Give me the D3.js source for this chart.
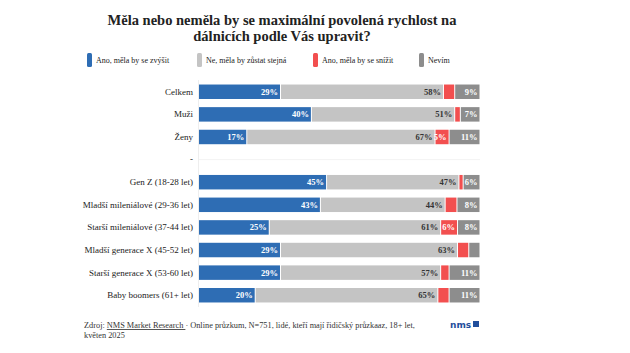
<!DOCTYPE html>
<html>
<head>
<meta charset="utf-8">
<script src="https://cdn.jsdelivr.net/npm/d3@7"></script>
<style>
body { margin: 0; background: #fff; }
text { font-family: "Liberation Serif", serif; }
</style>
</head>
<body>
<script>
var categories = ["Celkem", "Muži", "Ženy", "-", "Gen Z (18-28 let)", "Mladší mileniálové (29-36 let)",
    "Starší mileniálové (37-44 let)", "Mladší generace X (45-52 let)", "Starší generace X (53-60 let)",
    "Baby boomers (61+ let)"];
var seriesNames = ["Ano, měla by se zvýšit", "Ne, měla by zůstat stejná", "Ano, měla by se snížit", "Nevím"];
var zvysit = [29, 40, 17, null, 45.4, 43.2, 25, 29, 29, 20];
var stejna = [58, 51, 67, null, 47.1, 44.4, 61, 63, 57, 65];
var snizit = [4, 2, 5, null, 1.5, 4.2, 6, 4, 3, 4];
var nevim = [9, 7, 11, null, 6, 8.2, 8, 4, 11, 11];
var colors = ["#2e6db4", "#c4c4c4", "#f24f4f", "#8d8d8d"];
var labelColors = ["#fff", "#333", "#fff", "#fff"];

var svgWidth = 630;
var svgHeight = 353;
var margin = { top: 80, right: 150, bottom: 46, left: 199 };

var svg = d3.select("body")
        .append("svg")
        .attr("width", svgWidth)
        .attr("height", svgHeight);

// title
svg.append("text")
        .attr("x", 282)
        .attr("y", 25)
        .attr("text-anchor", "middle")
        .style("font-size", "14.5px")
        .style("font-weight", "bold")
        .attr("fill", "#222")
        .selectAll("tspan")
        .data(["Měla nebo neměla by se maximální povolená rychlost na", "dálnicích podle Vás upravit?"])
        .enter().append("tspan")
        .attr("x", 282)
        .attr("dy", function (d, i) { return i ? 16 : 0; })
        .text(function (d) { return d; });

// legend
var legendX = [87, 197, 313, 419];
var legend = svg.selectAll(".legend")
        .data(seriesNames)
        .enter().append("g")
        .attr("class", "legend")
        .attr("transform", function (d, i) { return "translate(" + legendX[i] + ",53)"; });
legend.append("rect")
        .attr("width", 5)
        .attr("height", 14)
        .attr("rx", 1.5)
        .attr("fill", function (d, i) { return colors[i]; });
legend.append("text")
        .attr("x", 9)
        .attr("y", 10)
        .style("font-size", "8px")
        .attr("fill", "#222")
        .text(function (d) { return d; });

var xScale = d3.scaleLinear()
        .domain([0, 100])
        .range([margin.left, svgWidth - margin.right]);

var yScale = d3.scaleBand()
        .domain(categories)
        .range([margin.top, svgHeight - margin.bottom])
        .paddingInner(0.36)
        .paddingOuter(0.2);

// faint axis line
svg.append("line")
        .attr("x1", margin.left - 0.5)
        .attr("x2", margin.left - 0.5)
        .attr("y1", margin.top)
        .attr("y2", svgHeight - margin.bottom)
        .attr("stroke", "#eeeeee");

svg.append("line")
        .attr("x1", margin.left)
        .attr("x2", svgWidth - margin.right)
        .attr("y1", yScale("-") + yScale.bandwidth() / 2)
        .attr("y2", yScale("-") + yScale.bandwidth() / 2)
        .attr("stroke", "#f3f3f3");

var yAxis = d3.axisLeft(yScale).tickSize(0).tickPadding(6);
var gy = svg.append("g")
        .attr("transform", "translate(" + margin.left + ",0)")
        .call(yAxis);
gy.select(".domain").remove();
gy.selectAll("text")
        .style("font-family", "Liberation Serif, serif")
        .style("font-size", "9px")
        .attr("fill", "#222");

var table = categories.map(function (c, i) {
    return { cat: c, values: [zvysit[i], stejna[i], snizit[i], nevim[i]] };
}).filter(function (d) { return d.values[0] !== null; });

var segments = [];
table.forEach(function (d) {
    var x0 = 0;
    d.values.forEach(function (v, k) {
        segments.push({ cat: d.cat, k: k, v: v, x0: x0, x1: x0 + v });
        x0 += v;
    });
});

svg.selectAll(".seg")
        .data(segments)
        .enter().append("rect")
        .attr("class", "seg")
        .attr("x", function (d) { return xScale(d.x0) + (d.k ? 0.5 : 0); })
        .attr("y", function (d) { return yScale(d.cat); })
        .attr("width", function (d) { return Math.max(0.8, xScale(d.x1) - xScale(d.x0) - (d.k ? 1 : 0.5)); })
        .attr("height", yScale.bandwidth())
        .attr("fill", function (d) { return colors[d.k]; });

svg.selectAll(".lbl")
        .data(segments.filter(function (d) { return d.v >= 5; }))
        .enter().append("text")
        .attr("class", "lbl")
        .attr("x", function (d) { return xScale(d.x1) - 2.5; })
        .attr("y", function (d) { return yScale(d.cat) + yScale.bandwidth() / 2 + 3; })
        .attr("text-anchor", "end")
        .style("font-size", "8.5px")
        .style("font-weight", "bold")
        .attr("fill", function (d) { return labelColors[d.k]; })
        .text(function (d) { return Math.round(d.v) + "%"; });

// footer
var foot = svg.append("text")
        .attr("x", 84)
        .attr("y", 328)
        .style("font-size", "8.3px")
        .attr("fill", "#333");
foot.append("tspan").text("Zdroj: ");
foot.append("tspan").attr("text-decoration", "underline").text("NMS Market Research ");
foot.append("tspan").text("· Online průzkum, N=751, lidé, kteří mají řidičský průzkaaz, 18+ let,");
svg.append("text")
        .attr("x", 84)
        .attr("y", 338)
        .style("font-size", "8.3px")
        .attr("fill", "#333")
        .text("květen 2025");

svg.append("text")
        .attr("x", 450)
        .attr("y", 328)
        .style("font-family", "DejaVu Sans, sans-serif")
        .style("font-size", "9px")
        .style("font-weight", "bold")
        .attr("fill", "#1f4e9c")
        .text("nms");
svg.append("rect")
        .attr("x", 473)
        .attr("y", 321)
        .attr("width", 6)
        .attr("height", 6)
        .attr("fill", "#1f4e9c");
</script>
</body>
</html>
